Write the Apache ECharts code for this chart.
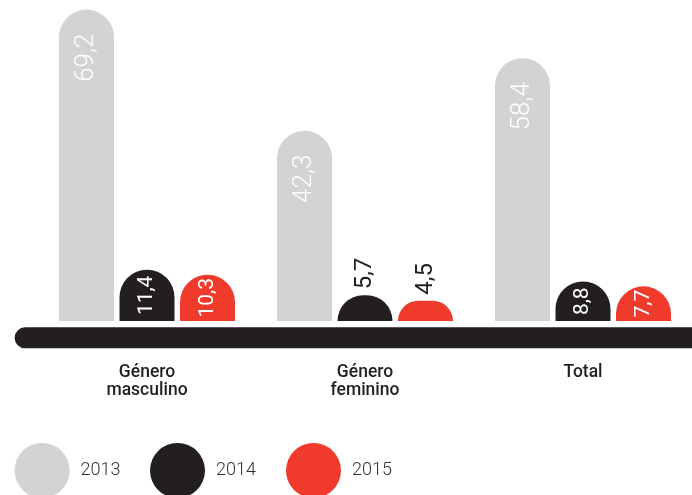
<!DOCTYPE html>
<html>
<head>
<meta charset="utf-8">
<script src="https://cdn.jsdelivr.net/npm/echarts@6/dist/echarts.min.js"></script>
<style>html,body{margin:0;padding:0;background:#fff}#c{width:692px;height:495px}</style>
</head>
<body>
<div id="c"></div>
<script>
const categories = ['Género\nmasculino', 'Género\nfeminino', 'Total'];
const years = ['2013', '2014', '2015'];
const values2013 = [69.2, 42.3, 58.4];
const values2014 = [11.4, 5.7, 8.8];
const values2015 = [10.3, 4.5, 7.7];
const colors = ['#d1d3d4', '#231f20', '#ef3a2c'];

const fmt = v => String(v).replace('.', ',');
const FONT = 'Roboto, "Liberation Sans", sans-serif';

function buildData(vals) {
  return vals.map(v => {
    let label;
    if (v >= 30) {
      label = { position: 'insideTop', distance: 24, align: 'right', verticalAlign: 'middle', color: '#fff', fontSize: 26, fontWeight: 300 };
    } else if (v >= 7) {
      label = { position: 'inside', align: 'center', verticalAlign: 'middle', color: '#fff', fontSize: 21, fontWeight: 400 };
    } else {
      label = { position: 'top', distance: 6, align: 'left', verticalAlign: 'middle', color: '#231f20', fontSize: 24, fontWeight: 400 };
    }
    return { value: v, label };
  });
}

const seriesVals = [values2013, values2014, values2015];
const series = seriesVals.map((vals, i) => ({
  name: years[i],
  type: 'bar',
  barWidth: 55,
  barGap: '10%',
  data: buildData(vals),
  itemStyle: { color: colors[i], borderRadius: [27.5, 27.5, 0, 0] },
  label: {
    show: true,
    rotate: 90,
    fontFamily: FONT,
    formatter: p => fmt(p.value)
  }
}));

const legendLefts = [14.6, 150, 286];
const legends = years.map((y, i) => ({
  data: [y],
  left: legendLefts[i],
  top: 443,
  padding: 0,
  orient: 'horizontal',
  icon: 'circle',
  itemWidth: 55,
  itemHeight: 55,
  selectedMode: false,
  textStyle: { fontFamily: FONT, fontSize: 18, fontWeight: 300, color: '#333', padding: [0, 0, 0, 6] }
}));

const chart = echarts.init(document.getElementById('c'));
chart.setOption({
  animation: false,
  color: colors,
  grid: { left: 38, right: 0, top: 6, bottom: 174 },
  legend: legends,
  xAxis: {
    type: 'category',
    data: categories,
    axisLine: { show: false },
    axisTick: { show: false },
    axisLabel: {
      margin: 42,
      fontFamily: FONT,
      fontSize: 17.5,
      lineHeight: 18.5,
      fontWeight: 500,
      color: '#231f20'
    }
  },
  yAxis: { type: 'value', min: 0, max: 70, show: false, splitLine: { show: false } },
  graphic: [{
    type: 'rect',
    shape: { x: 14.6, y: 327.3, width: 720, height: 21, r: 10.5 },
    style: { fill: '#231f20' },
    z: 0
  }],
  series
});
</script>
</body>
</html>
